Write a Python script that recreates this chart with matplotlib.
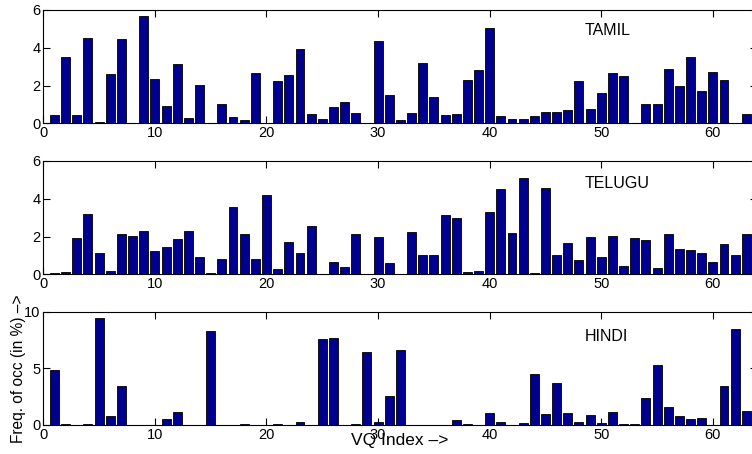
import numpy as np
import matplotlib
matplotlib.use('Agg')
import matplotlib.pyplot as plt

# VQ index 1..63, frequency of occurrence (%) per language
vq_index = np.arange(1, 64)

tamil = [0.45, 3.53, 0.45, 4.50, 0.05, 2.61, 4.46, 0.02, 5.68, 2.35,
         0.92, 3.16, 0.30, 2.03, 0.02, 1.02, 0.32, 0.20, 2.68, 0.03,
         2.22, 2.54, 3.93, 0.49, 0.23, 0.88, 1.15, 0.55, 0.02, 4.38,
         1.50, 0.18, 0.53, 3.21, 1.39, 0.46, 0.51, 2.29, 2.82, 5.03,
         0.37, 0.21, 0.23, 0.37, 0.62, 0.60, 0.71, 2.22, 0.74, 1.61,
         2.66, 2.52, 0.02, 1.00, 1.04, 2.88, 1.98, 3.51, 1.71, 2.72,
         2.28, 0.02, 0.51]

telugu = [0.05, 0.12, 1.94, 3.17, 1.11, 0.18, 2.15, 2.04, 2.30, 1.25,
          1.43, 1.85, 2.29, 0.90, 0.07, 0.79, 3.54, 2.15, 0.79, 4.22,
          0.28, 1.69, 1.11, 2.55, 0.00, 0.65, 0.37, 2.13, 0.00, 1.95,
          0.62, 0.00, 2.25, 1.02, 1.02, 3.13, 2.99, 0.12, 0.18, 3.29,
          4.49, 2.18, 5.09, 0.09, 4.56, 1.02, 1.64, 0.76, 1.97, 0.90,
          2.02, 0.44, 1.92, 1.79, 0.33, 2.11, 1.32, 1.28, 1.13, 0.65,
          1.62, 1.02, 2.15]

hindi = [4.85, 0.05, 0.00, 0.08, 9.41, 0.76, 3.44, 0.00, 0.03, 0.00,
         0.53, 1.12, 0.00, 0.02, 8.26, 0.02, 0.00, 0.12, 0.00, 0.00,
         0.05, 0.00, 0.26, 0.00, 7.59, 7.71, 0.00, 0.05, 6.44, 0.26,
         2.59, 6.62, 0.00, 0.00, 0.00, 0.03, 0.47, 0.05, 0.00, 1.06,
         0.26, 0.00, 0.20, 4.53, 0.94, 3.68, 1.03, 0.26, 0.88, 0.18,
         1.18, 0.05, 0.08, 2.38, 5.32, 1.59, 0.82, 0.53, 0.62, 0.00,
         3.47, 8.44, 1.21]

languages = ['TAMIL', 'TELUGU', 'HINDI']
series = [tamil, telugu, hindi]
y_ticks = [[0, 2, 4, 6], [0, 2, 4, 6], [0, 5, 10]]
y_max = [6, 6, 10]
label_y = [4.9, 4.8, 7.8]

BAR_COLOR = '#00008F'

plt.rcParams['font.family'] = ['Liberation Sans', 'DejaVu Sans']

fig = plt.figure(figsize=(7.52, 4.54), dpi=100)
fig.patch.set_facecolor('white')

# axes positions (figure fractions), right edge runs slightly past the figure
left, width = 0.0576, 0.9497
bottoms = [0.7284, 0.3958, 0.0639]
height = 0.2498

for k in range(3):
    ax = fig.add_axes([left, bottoms[k], width, height])
    ax.bar(vq_index, series[k], width=0.8, color=BAR_COLOR,
           edgecolor='black', linewidth=0.6, zorder=2)
    ax.set_xlim(0, 64)
    ax.set_ylim(0, y_max[k])
    ax.set_xticks([0, 10, 20, 30, 40, 50, 60])
    ax.set_yticks(y_ticks[k])
    ax.tick_params(direction='in', top=True, right=True, length=5,
                   width=0.8, labelsize=10.5, pad=2)
    for sp in ax.spines.values():
        sp.set_linewidth(0.8)
    ax.text(48.5, label_y[k], languages[k], ha='left', va='center',
            fontsize=11.5)

fig.text(0.025, 1 - 369 / 454, 'Freq. of occ (in %) \u2013>', rotation=90,
         ha='center', va='center', fontsize=11.2)
fig.text(400 / 752, 1 - 440 / 454, 'VQ Index \u2013>', ha='center',
         va='center', fontsize=12.5)

fig.savefig('out.png', dpi=100, facecolor='white')
